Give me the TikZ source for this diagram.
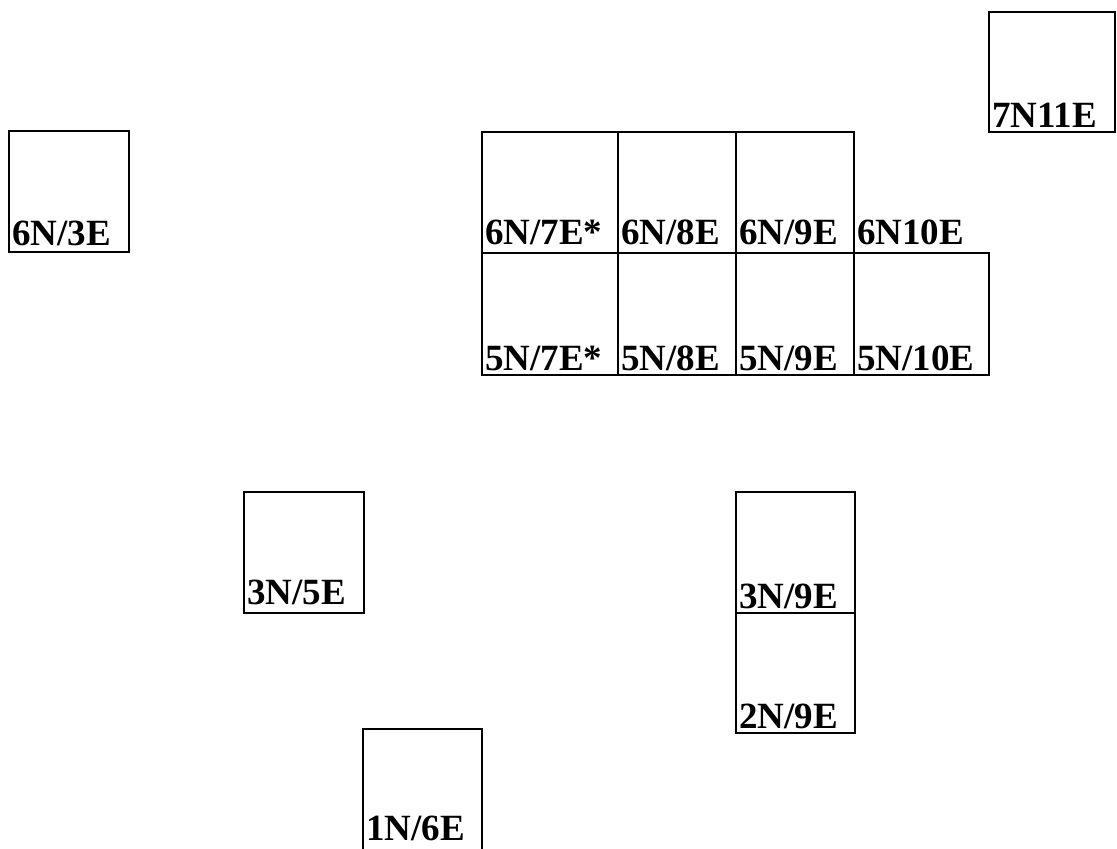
\documentclass[tikz,border=0pt]{standalone}
\usepackage{fontspec}
\setmainfont{Liberation Serif}
\usetikzlibrary{positioning}

\begin{document}
\begin{tikzpicture}[x=1pt,y=1pt,sq/.style={draw,line width=1.8pt,outer sep=0pt,inner sep=0pt,minimum width=118pt,minimum height=121pt},lbl/.style={anchor=base west,inner sep=0pt,xshift=3pt,yshift=4pt,font=\fontsize{37}{40}\selectfont\bfseries},gridref/.style={label={[lbl]south west:#1}},highref/.style={label={[lbl,yshift=4pt]south west:#1}}]
\useasboundingbox (0,0) rectangle (1117,849);
\node[sq,minimum width=120pt,label={[lbl,yshift=2pt]south west:6N/3E}] (b63) at (69,657.5) {};
\node[sq,minimum width=136pt,highref=6N/7E*] (c67) at (550,656.5) {};
\node[sq,right=0pt of c67,highref=6N/8E] (c68) {};
\node[sq,right=0pt of c68,highref=6N/9E] (c69) {};
\node[sq,minimum width=136pt,minimum height=122pt,below=0pt of c67,gridref=5N/7E*] (c57) {};
\node[sq,minimum height=122pt,right=0pt of c57,gridref=5N/8E] (c58) {};
\node[sq,minimum height=122pt,right=0pt of c58,gridref=5N/9E] (c59) {};
\node[sq,minimum width=135pt,minimum height=122pt,right=0pt of c59,gridref=5N/10E] (c510) {};
\node[lbl,yshift=4pt] (t610) at (c69.south east) {6N10E};
\node[sq,minimum width=126pt,minimum height=120pt,gridref=7N11E] (b711) at (1052,777) {};
\node[sq,minimum width=120pt,highref=3N/5E] (b35) at (304,296.5) {};
\node[sq,minimum width=119pt,minimum height=122pt,label={[lbl,yshift=6pt]south west:1N/6E}] (b16) at (422.5,59) {};
\node[sq,minimum width=119pt,gridref=3N/9E] (b39) at (795.5,296.5) {};
\node[sq,minimum width=119pt,minimum height=120pt,below=0pt of b39,gridref=2N/9E] (b29) {};
\end{tikzpicture}
\end{document}
